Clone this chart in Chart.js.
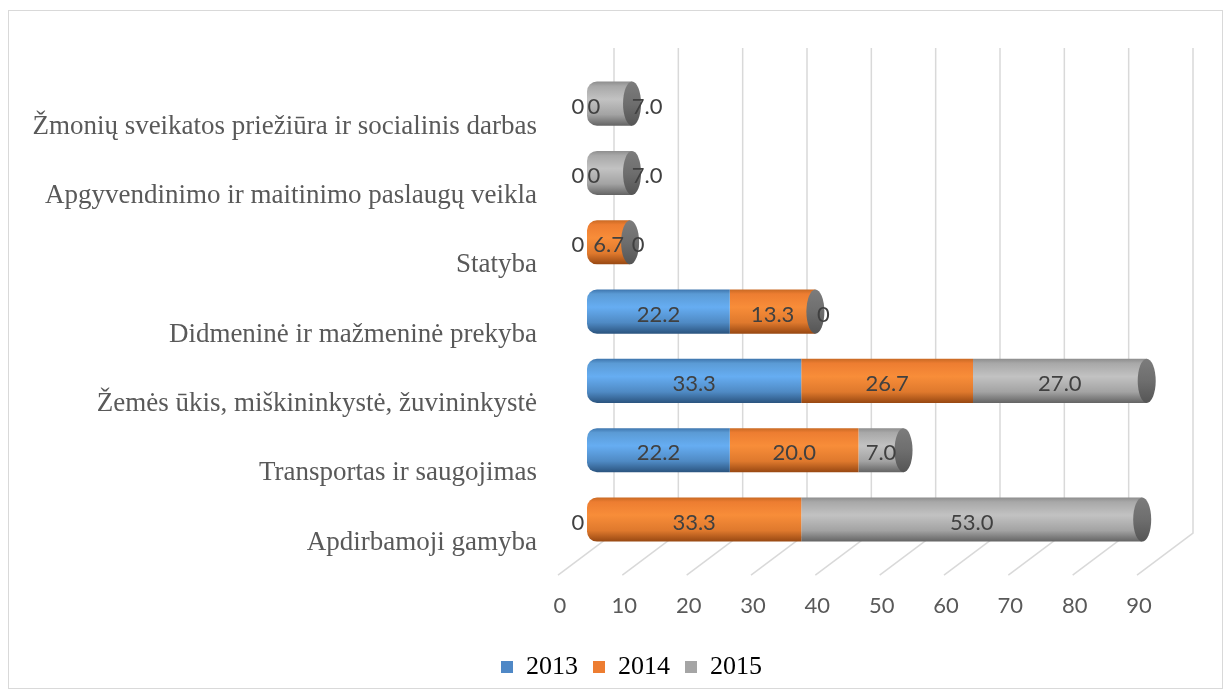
<!DOCTYPE html>
<html>
<head>
<meta charset="utf-8">
<script src="https://cdn.jsdelivr.net/npm/chart.js@4.4.1/dist/chart.umd.min.js"></script>
<style>
  html, body { margin: 0; padding: 0; background: #fff; }
  #chart { display: block; }
</style>
</head>
<body>
<canvas id="chart" width="1231" height="695"></canvas>
<script>
const categories = [
  "Žmonių sveikatos priežiūra ir socialinis darbas",
  "Apgyvendinimo ir maitinimo paslaugų veikla",
  "Statyba",
  "Didmeninė ir mažmeninė prekyba",
  "Žemės ūkis, miškininkystė, žuvininkystė",
  "Transportas ir saugojimas",
  "Apdirbamoji gamyba",
];
const years = ["2013", "2014", "2015"];
const values2013 = [0, 0, 0, 22.2, 33.3, 22.2, 0];
const values2014 = [0, 0, 6.7, 13.3, 26.7, 20.0, 33.3];
const values2015 = [7.0, 7.0, 0, 0, 27.0, 7.0, 53.0];
const series = [values2013, values2014, values2015];

const flatColors = ["#4f88c6", "#ed7d31", "#a5a5a5"];
const gradStops = [
  ["#3f76ae", "#5b9bd5", "#66adf2", "#4f8ac4", "#2b547f"],
  ["#c96a24", "#ed7d31", "#f88d39", "#df792d", "#984812"],
  ["#8e8e8e", "#a8a8a8", "#c2c2c2", "#a3a3a3", "#646464"],
];

// cylinder-like shading, built per bar from the category scale
function cylinderFill(ctx) {
  const chart = ctx.chart;
  const d = ctx.datasetIndex;
  if (!chart.chartArea || ctx.dataIndex === undefined) return flatColors[d];
  const y = chart.scales.y;
  const yc = y.getPixelForValue(ctx.dataIndex);
  const h = 22;
  const g = chart.ctx.createLinearGradient(0, yc - h, 0, yc + h);
  const s = gradStops[d];
  g.addColorStop(0, s[0]);
  g.addColorStop(0.1, s[1]);
  g.addColorStop(0.4, s[2]);
  g.addColorStop(0.75, s[3]);
  g.addColorStop(1, s[4]);
  return g;
}

// round the left end of the first non-zero segment
function leftRound(ctx) {
  const d = ctx.datasetIndex, i = ctx.dataIndex;
  if (i === undefined || series[d][i] === 0) return 0;
  for (let k = 0; k < d; k++) if (series[k][i] !== 0) return 0;
  return { topLeft: 10, bottomLeft: 10, topRight: 0, bottomRight: 0 };
}

const frame = {
  id: "frame",
  beforeDraw(chart) {
    const c = chart.ctx;
    c.save();
    c.fillStyle = "#fff";
    c.fillRect(0, 0, chart.width, chart.height);
    c.strokeStyle = "#d9d9d9";
    c.lineWidth = 1;
    c.strokeRect(8.5, 10.5, 1214, 678);
    c.restore();
  },
};

// back wall + floor lines of the 3D box
const wall = {
  id: "wall",
  beforeDatasetsDraw(chart) {
    const c = chart.ctx;
    const x = chart.scales.x;
    const a = chart.chartArea;
    c.save();
    c.strokeStyle = "#d9d9d9";
    c.lineWidth = 1.5;
    x.ticks.forEach(t => {
      const px = x.getPixelForValue(t.value);
      c.beginPath();
      c.moveTo(px + 27, a.top - 21);
      c.lineTo(px + 27, a.bottom - 21);
      c.lineTo(px - 29, a.bottom + 21);
      c.stroke();
    });
    c.restore();
  },
};

const capsAndLabels = {
  id: "capsAndLabels",
  afterDatasetsDraw(chart) {
    const c = chart.ctx;
    const last = chart.getDatasetMeta(series.length - 1).data;
    c.save();
    last.forEach(el => {
      const ry = el.height / 2;
      const g = c.createLinearGradient(0, el.y - ry, 0, el.y + ry);
      g.addColorStop(0, "#7c7c7c");
      g.addColorStop(0.5, "#6e6e6e");
      g.addColorStop(1, "#555");
      c.fillStyle = g;
      c.beginPath();
      c.ellipse(el.x, el.y, 9, ry, 0, 0, Math.PI * 2);
      c.fill();
    });
    c.font = "22px Lato";
    c.fillStyle = "#404040";
    c.textAlign = "center";
    c.textBaseline = "middle";
    const zeroShift = [-9, 7, 8];
    const x0 = chart.scales.x.getPixelForValue(0);
    series.forEach((vals, d) => {
      chart.getDatasetMeta(d).data.forEach((el, i) => {
        const v = vals[i];
        let px;
        if (v === 0) px = el.base + zeroShift[d];
        else if (d === 2 && Math.abs(el.base - x0) < 1 && el.x - el.base < 50) px = el.x + 15;
        else px = (el.x + el.base) / 2;
        c.fillText(v === 0 ? "0" : v.toFixed(1), px, el.y + 3);
      });
    });
    c.restore();
  },
};

new Chart(document.getElementById("chart"), {
  type: "bar",
  data: {
    labels: categories,
    datasets: years.map((yr, d) => ({
      label: yr,
      data: series[d],
      backgroundColor: cylinderFill,
      borderWidth: 0,
      borderSkipped: false,
      borderRadius: leftRound,
      barPercentage: 0.636,
      categoryPercentage: 1,
    })),
  },
  options: {
    indexAxis: "y",
    responsive: false,
    animation: false,
    devicePixelRatio: 1,
    layout: { padding: { top: 69, right: 0, bottom: 5, left: 32 } },
    scales: {
      x: {
        stacked: true,
        min: 0,
        max: 90,
        grid: { display: false },
        border: { display: false },
        ticks: {
          stepSize: 10,
          padding: 31,
          labelOffset: -27,
          color: "#595959",
          font: { family: "Lato", size: 22 },
        },
        afterFit(s) { s.height = 84.8; },
      },
      y: {
        stacked: true,
        grid: { display: false },
        border: { display: false },
        ticks: {
          padding: 42,
          labelOffset: 23,
          color: "#595959",
          font: { family: "Liberation Serif", size: 27 },
        },
        afterFit(s) { s.width = 555; },
      },
      right: {
        type: "linear",
        position: "right",
        grid: { display: false },
        border: { display: false },
        ticks: { display: false },
        afterFit(s) { s.width = 65; },
      },
    },
    plugins: {
      tooltip: { enabled: false },
      legend: {
        position: "bottom",
        labels: {
          boxWidth: 12,
          boxHeight: 12,
          padding: 15,
          color: "#595959",
          font: { family: "Liberation Serif", size: 26 },
          generateLabels: () => years.map((yr, d) => ({
            text: yr,
            fillStyle: flatColors[d],
            strokeStyle: flatColors[d],
            lineWidth: 0,
            datasetIndex: d,
          })),
        },
      },
    },
  },
  plugins: [frame, wall, capsAndLabels],
});
</script>
</body>
</html>
